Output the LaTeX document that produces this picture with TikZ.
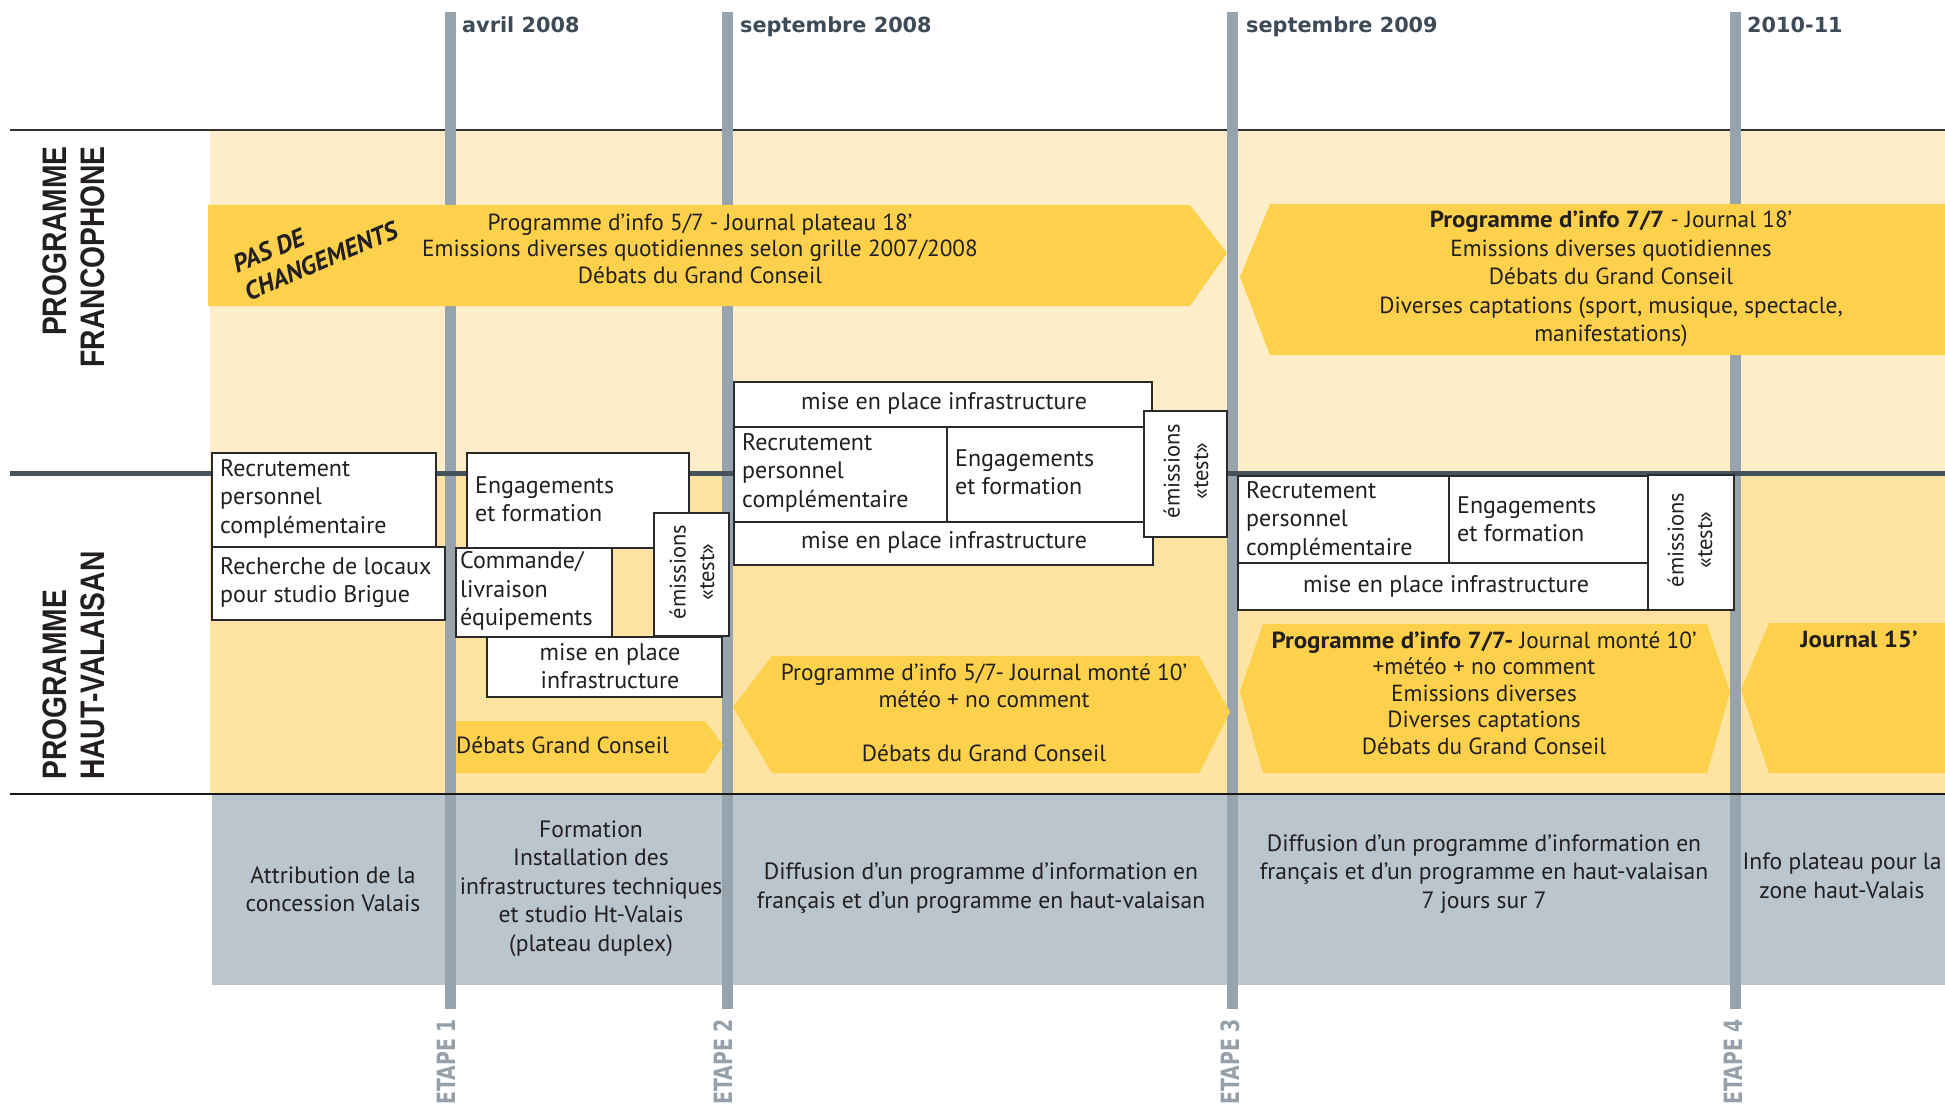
\documentclass[tikz,border=0pt]{standalone}
\usepackage{fontspec}
\setmainfont{PT Sans}[BoldFeatures={FakeStretch=1.07}]
\newfontfamily\hdfont{Liberation Sans}[FakeStretch=0.83]
\newfontfamily\etfont{DejaVu Sans}[FakeStretch=0.75]
\newfontfamily\datefont{DejaVu Sans}
\definecolor{cream}{HTML}{FDEDC9}
\definecolor{hvbg}{HTML}{FFE3A2}
\definecolor{ylw}{HTML}{FDD14B}
\definecolor{panel}{HTML}{BAC5CD}
\definecolor{stage}{HTML}{97A3AD}
\definecolor{datec}{HTML}{3E4A55}
\definecolor{etapec}{HTML}{95A0AA}
\definecolor{midline}{HTML}{46525C}
\definecolor{txtc}{HTML}{231F20}
\definecolor{boxc}{HTML}{2A2A2A}
\begin{document}
\begin{tikzpicture}[x=1pt,y=-1pt,
  stageline/.style={line width=10.5pt, stage},
  arrowshape/.style={fill=ylw, draw=none},
  boxshape/.style={fill=white, draw=boxc, line width=1.3pt},
  atxt/.style={font=\fontsize{23.3}{26.5}\selectfont, align=center, inner sep=0pt, text=txtc},
  btxt/.style={font=\fontsize{24}{28.5}\selectfont, align=left, inner sep=0pt, text=txtc, anchor=west},
  ctxt/.style={font=\fontsize{24}{28.5}\selectfont, align=center, inner sep=0pt, text=txtc},
  rtxt/.style={font=\fontsize{22.5}{28.5}\selectfont, align=center, inner sep=0pt, text=txtc, rotate=90},
  ptxt/.style={font=\fontsize{23.6}{28.5}\selectfont, align=center, inner sep=0pt, text=txtc},
  datetxt/.style={font=\datefont\bfseries\fontsize{20.8}{24}\selectfont, text=datec, inner sep=0pt, anchor=base west},
  hdtxt/.style={font=\hdfont\bfseries\fontsize{34}{38}\selectfont, text=txtc, inner sep=0pt, rotate=90},
  etapetxt/.style={font=\etfont\bfseries\fontsize{25.2}{28}\selectfont, text=etapec, inner sep=0pt, rotate=90, anchor=base west}
]
\useasboundingbox (0,0) rectangle (1945,1107);
% backgrounds
\fill[cream] (210,130) rectangle (1945,473);
\fill[hvbg] (210,473) rectangle (1945,794);
\fill[panel] (212,794) rectangle (1945,985);
\draw[line width=2.5pt, color=black!80] (10,130) -- (1945,130);
% stage lines
\draw[stageline] (450.5,12) -- (450.5,1009);
\draw[stageline] (727.5,12) -- (727.5,1009);
\draw[stageline] (1232.5,12) -- (1232.5,1009);
\draw[stageline] (1735.5,12) -- (1735.5,1009);
\draw[line width=5pt, midline] (10,473) -- (1945,473);
\draw[line width=2.5pt, color=black!90] (10,794) -- (1945,794);

% yellow arrows
\fill[arrowshape] (208,205) -- (1190,205) -- (1227,253) -- (1190,306) -- (208,306) -- cycle;
\fill[arrowshape] (1270,204) -- (1945,204) -- (1945,355) -- (1270,355) -- (1240,277) -- cycle;
\fill[arrowshape] (456,721) -- (705,721) -- (723,745) -- (705,773) -- (456,773) -- cycle;
\fill[arrowshape] (772,656) -- (1199,656) -- (1230,712) -- (1199,773) -- (772,773) -- (733,707) -- cycle;
\fill[arrowshape] (1263,624) -- (1707,624) -- (1730,692) -- (1707,773) -- (1263,773) -- (1240,692) -- cycle;
\fill[arrowshape] (1769,623) -- (1945,623) -- (1945,773) -- (1769,773) -- (1741,690) -- cycle;

% boxes etape 1
\draw[boxshape] (212,453) rectangle (436,547);
\draw[boxshape] (212,547) rectangle (445,620);
\draw[boxshape] (467,453) rectangle (689,548);
\draw[boxshape] (487,637) rectangle (722,697);
\draw[boxshape] (456,548) rectangle (612,637);
\draw[boxshape] (654,513) rectangle (729,636);
% boxes etape 2
\draw[boxshape] (734,382) rectangle (1152,427);
\draw[boxshape] (734,427) rectangle (947,522);
\draw[boxshape] (947,427) rectangle (1145,522);
\draw[boxshape] (734,522) rectangle (1153,565);
\draw[boxshape] (1144,411) rectangle (1227,537);
% boxes etape 3
\draw[boxshape] (1238,476) rectangle (1449,563);
\draw[boxshape] (1449,476) rectangle (1648,563);
\draw[boxshape] (1238,563) rectangle (1648,610);
\draw[boxshape] (1648,475) rectangle (1734,610);

% dates
\node[datetxt] (d1) at (462,33) {avril 2008};
\node[datetxt] (d2) at (740,33) {septembre 2008};
\node[datetxt] (d3) at (1246,33) {septembre 2009};
\node[datetxt] (d4) at (1747,33) {2010-11};

% headers
\node[hdtxt, anchor=base east] (h1) at (66,146) {PROGRAMME};
\node[hdtxt, anchor=base east] (h2) at (104,146) {FRANCOPHONE};
\node[hdtxt, anchor=base west] (h3) at (66,780) {PROGRAMME};
\node[hdtxt, anchor=base west] (h4) at (104,780) {HAUT-VALAISAN};

% etapes
\node[etapetxt] (e1) at (455,1105) {ETAPE 1};
\node[etapetxt] (e2) at (732,1105) {ETAPE 2};
\node[etapetxt] (e3) at (1239,1105) {ETAPE 3};
\node[etapetxt] (e4) at (1742,1105) {ETAPE 4};

% francophone texts
\node[font=\bfseries\itshape\fontsize{25.5}{30}\selectfont, rotate=23, align=left, inner sep=0pt, text=txtc] (pas) at (315,247) {PAS DE\\CHANGEMENTS};
\node[atxt] (f1) at (700,248.5) {Programme d’info 5/7 - Journal plateau 18’\\Emissions diverses quotidiennes selon grille 2007/2008\\Débats du Grand Conseil};
\node[atxt, font=\fontsize{23.3}{28.5}\selectfont] (f2) at (1611,279) {\textbf{Programme d’info 7/7} - Journal 18’\\Emissions diverses quotidiennes\\Débats du Grand Conseil\\Diverses captations (sport, musique, spectacle,\\manifestations)};

% etape 1 box texts
\node[btxt] (b1) at (220,498.5) {Recrutement\\personnel\\complémentaire};
\node[btxt] (b2) at (220,582.5) {Recherche de locaux\\pour studio Brigue};
\node[btxt] (b3) at (475,499) {Engagements\\et formation};
\node[btxt] (b4) at (460,591) {Commande/\\livraison\\équipements};
\node[rtxt] (b5) at (692,572) {émissions\\«test»};
\node[ctxt] (b6) at (610,666) {mise en place\\infrastructure};
\node[atxt, anchor=west] (b7) at (456,745) {Débats Grand Conseil};

% etape 2 box texts
\node[ctxt] (c1) at (944,403) {mise en place infrastructure};
\node[btxt] (c2) at (742,472.5) {Recrutement\\personnel\\complémentaire};
\node[btxt] (c3) at (955,472) {Engagements\\et formation};
\node[ctxt] (c4) at (944,542) {mise en place infrastructure};
\node[rtxt] (c5) at (1186,471) {émissions\\«test»};
\node[atxt, font=\fontsize{23.3}{27}\selectfont] (c6) at (984,713) {Programme d’info 5/7- Journal monté 10’\\météo + no comment\\\mbox{}\\Débats du Grand Conseil};

% etape 3 box texts
\node[btxt] (g1) at (1246,520.5) {Recrutement\\personnel\\complémentaire};
\node[btxt] (g2) at (1457,519) {Engagements\\et formation};
\node[ctxt] (g3) at (1446,586) {mise en place infrastructure};
\node[rtxt] (g4) at (1690,540) {émissions\\«test»};
\node[atxt] (g5) at (1484,693) {\textbf{Programme d’info 7/7-} Journal monté 10’\\+météo + no comment\\Emissions diverses\\Diverses captations\\Débats du Grand Conseil};
\node[atxt] (g6) at (1859,639) {\textbf{Journal 15’}};

% bottom panel texts
\node[ptxt] (p1) at (333,889) {Attribution de la\\concession Valais};
\node[ptxt] (p2) at (591,888.5) {Formation\\Installation des\\infrastructures techniques\\et studio Ht-Valais\\(plateau duplex)};
\node[ptxt] (p3) at (981,888) {Diffusion d’un programme d’information en\\français et d’un programme en haut-valaisan};
\node[ptxt] (p4) at (1484,874) {Diffusion d’un programme d’information en\\français et d’un programme en haut-valaisan\\7 jours sur 7};
\node[ptxt] (p5) at (1842,876) {Info plateau pour la\\zone haut-Valais};
\end{tikzpicture}
\end{document}
